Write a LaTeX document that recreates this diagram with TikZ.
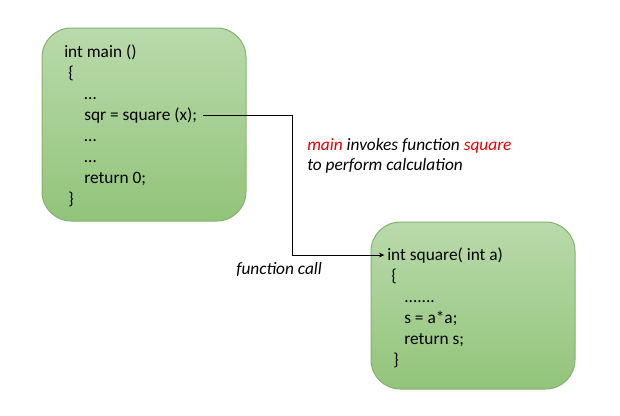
\documentclass[tikz,border=0pt]{standalone}
\usepackage{fontspec}
\setmainfont{Carlito}
\usepackage{xcolor}
\usetikzlibrary{positioning,arrows.meta}

\definecolor{boxtop}{RGB}{185,218,171}
\definecolor{boxbot}{RGB}{146,196,122}
\definecolor{boxline}{RGB}{132,178,110}
\definecolor{callred}{RGB}{230,0,0}

\begin{document}
\begin{tikzpicture}[x=0.75pt, y=-0.75pt,
  node distance=15.75pt,
  box/.style={draw=boxline, line width=0.75pt, rounded corners=22pt,
    top color=boxtop, bottom color=boxbot},
  line/.style={anchor=base west, inner sep=0pt, font=\fontsize{13pt}{15pt}\selectfont},
  note/.style={line, font=\fontsize{13pt}{15pt}\selectfont\itshape},
  conn/.style={-{Stealth[length=4pt,width=3.5pt]}, line width=0.75pt},
]
\useasboundingbox (0,0) rectangle (620,415);

% the two code blocks
\node[box, minimum width=153pt, minimum height=144.75pt] (mainbox) at (144,124.5) {};
\node[box, minimum width=153pt, minimum height=125.25pt] (sqbox) at (473,305.5) {};

% main
\node[line] (m1) at (64,57) {int main ()};
\node[below=of m1.base west, line, xshift=3pt] (m2) {\{};
\node[below=of m2.base west, line, xshift=12pt] (m3) {\dots};
\node[below=of m3.base west, line] (m4) {sqr = square (x);};
\node[below=of m4.base west, line] (m5) {\dots};
\node[below=of m5.base west, line] (m6) {\dots};
\node[below=of m6.base west, line] (m7) {return 0;};
\node[below=of m7.base west, line, xshift=-12pt] (m8) {\}};

% square
\node[line] (s1) at (387,260) {int square( int a)};
\node[below=of s1.base west, line, xshift=3pt] (s2) {\{};
\node[below=of s2.base west, line, xshift=9.75pt] (s3) {.......};
\node[below=of s3.base west, line] (s4) {s = a*a;};
\node[below=of s4.base west, line] (s5) {return s;};
\node[below=of s5.base west, line, xshift=-8.25pt] (s6) {\}};

% notes
\node[note] (inv1) at (307,150) {\textcolor{callred}{main} invokes function \textcolor{callred}{square}};
\node[below=15pt of inv1.base west, note] (inv2) {to perform calculation};
\node[note] (fcall) at (236,274) {function call};

\draw[conn] ([xshift=4.5pt]m4.east) -- ++(89,0) |- ([xshift=-2pt]s1.west);
\end{tikzpicture}
\end{document}
